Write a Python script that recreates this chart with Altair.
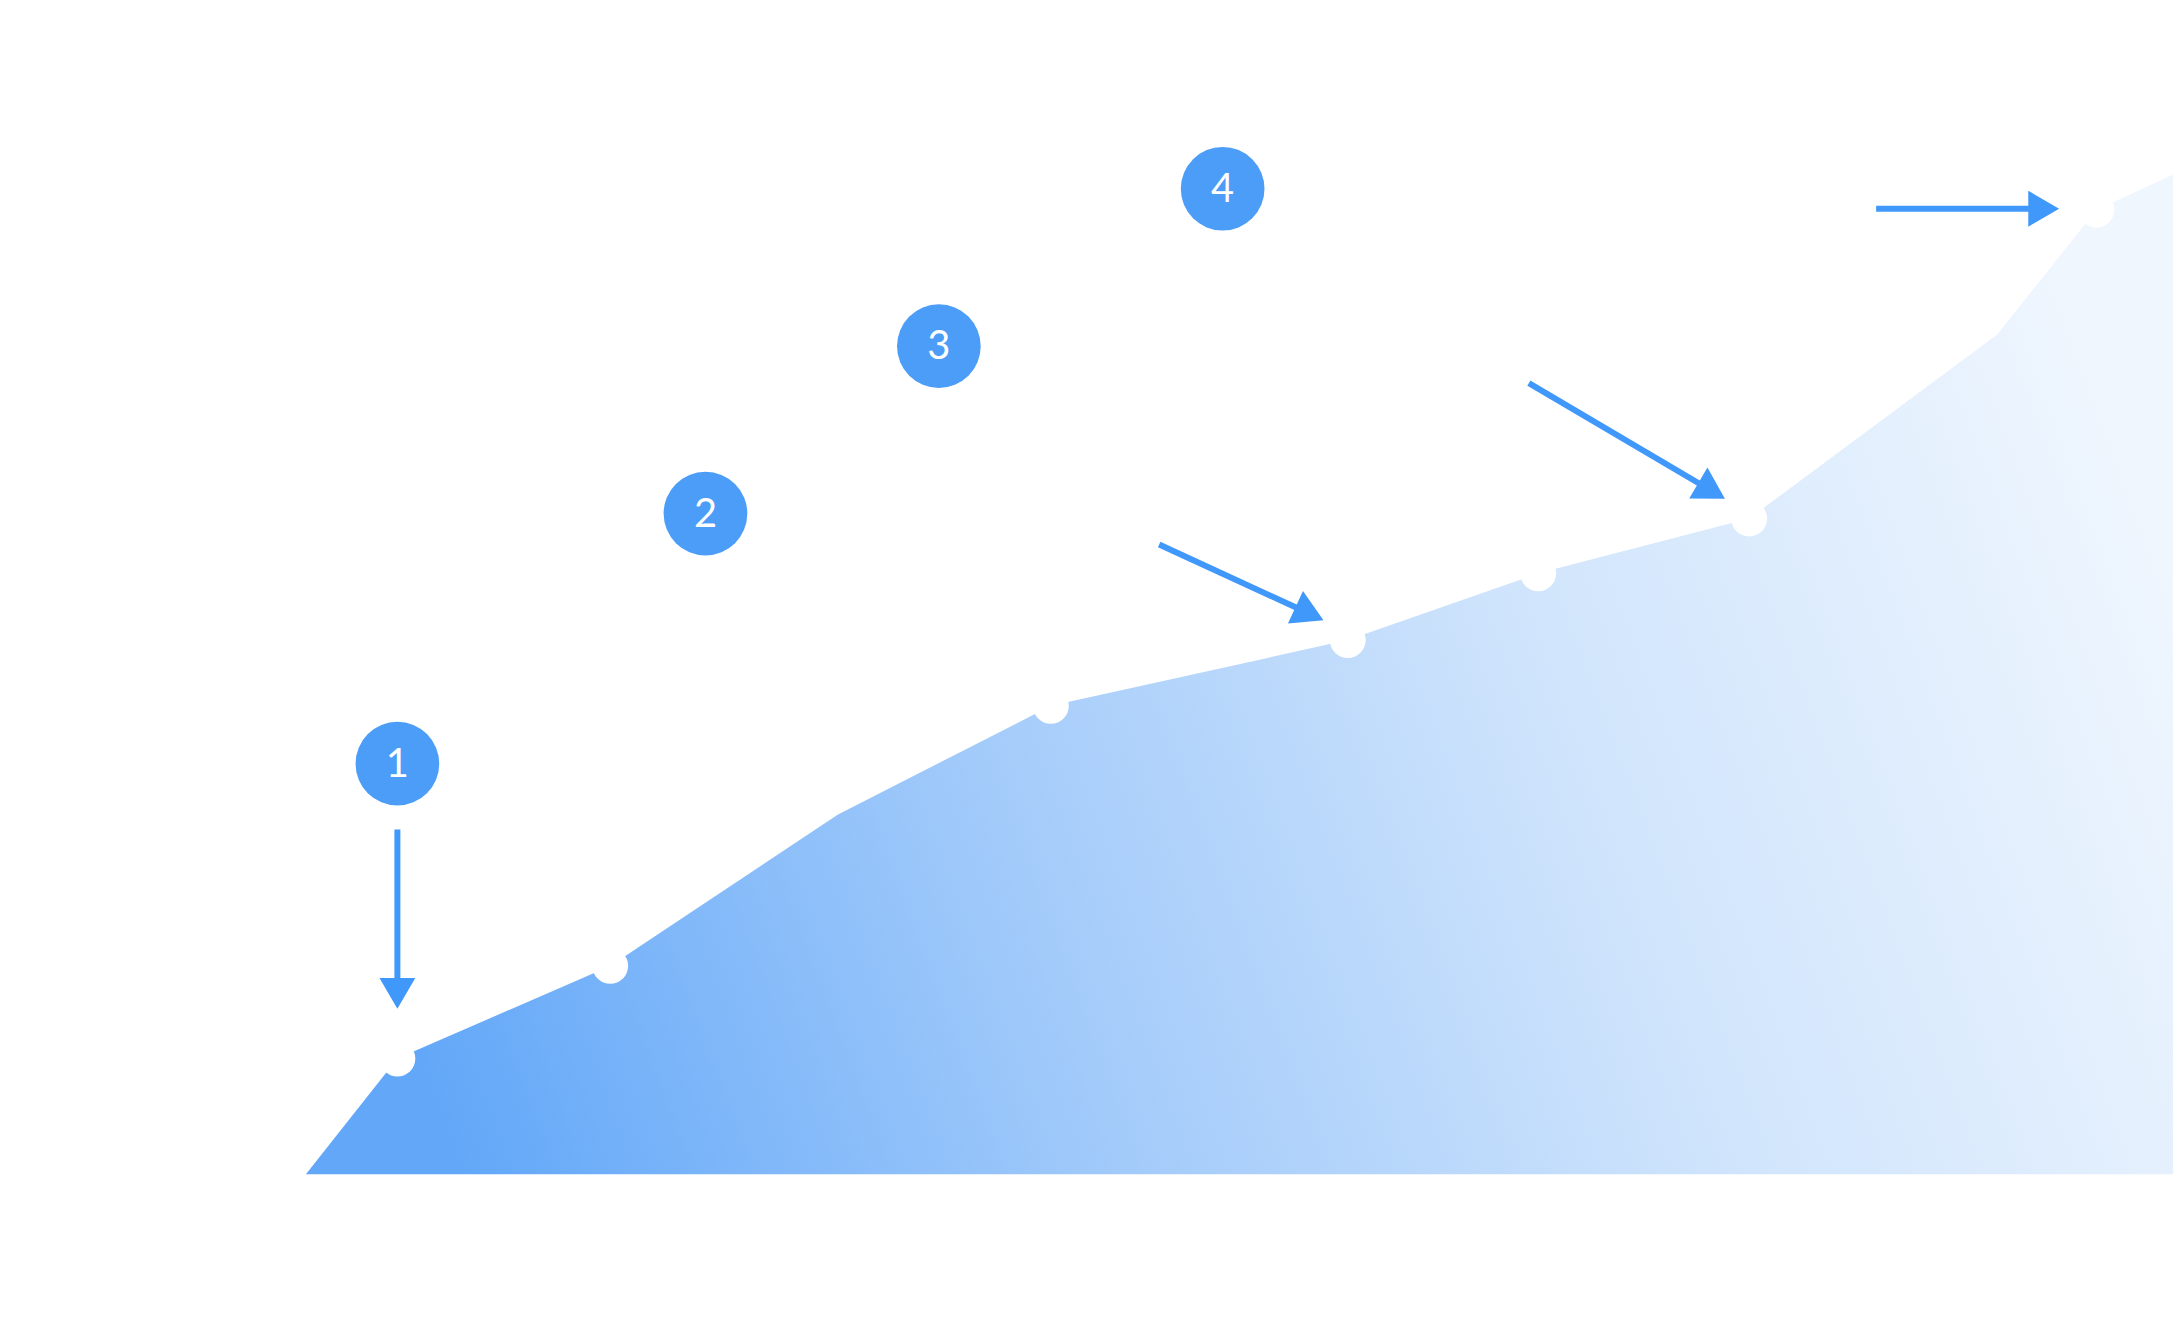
import math
import altair as alt
import pandas as pd

# ---- data (x: 0-100 time units, y: 0-100 value units) ----
area_x = [0, 4.9, 16.3, 28.5, 39.9, 55.8, 66.0, 77.3, 90.6, 95.9, 100]
area_y = [0, 11.6, 20.9, 36.1, 47.0, 53.6, 60.3, 65.8, 84.3, 96.8, 100.3]

marker_x = [4.9, 16.3, 39.9, 55.8, 66.0, 77.3, 95.9]
marker_y = [11.6, 20.9, 47.0, 53.6, 60.3, 65.8, 96.8]

badge_label = ["1", "2", "3", "4"]
badge_x = [4.9, 21.4, 33.9, 49.1]
badge_y = [41.2, 66.3, 83.1, 98.9]

arrow_x_start = [4.9, 45.7, 65.5, 84.1]
arrow_y_start = [34.6, 63.2, 79.4, 96.9]
arrow_x_tip = [4.9, 54.5, 76.0, 93.9]
arrow_y_tip = [16.6, 55.6, 67.8, 96.9]

# ---- layout ----
W, H = 1874, 1000
XDOM = [0, 100]
YDOM = [0, 100]
sx = W / (XDOM[1] - XDOM[0])
sy = H / (YDOM[1] - YDOM[0])
HEAD_LEN = 26  # px the shaft stops short of the tip

xs = alt.Scale(domain=XDOM, nice=False, zero=False)
ys = alt.Scale(domain=YDOM, nice=False, zero=False)

area_df = pd.DataFrame({"x": area_x, "y": area_y})
marker_df = pd.DataFrame({"x": marker_x, "y": marker_y})
badge_df = pd.DataFrame({"x": badge_x, "y": badge_y, "label": badge_label})

rows = []
for x0, y0, x1, y1 in zip(arrow_x_start, arrow_y_start, arrow_x_tip, arrow_y_tip):
    dxp = (x1 - x0) * sx
    dyp = -(y1 - y0) * sy
    L = math.hypot(dxp, dyp)
    ux, uy = dxp / L, dyp / L
    ex = x1 - HEAD_LEN * ux / sx
    ey = y1 + HEAD_LEN * uy / sy
    ang = math.degrees(math.atan2(dxp, -dyp)) % 360
    rows.append({"x0": x0, "y0": y0, "xe": ex, "ye": ey, "xt": x1, "yt": y1, "angle": ang})
arrow_df = pd.DataFrame(rows)

ARROW = "#4098fa"
BADGE = "#4b9df8"

gradient = alt.Gradient(
    gradient="linear",
    stops=[
        alt.GradientStop(color="#62a7f8", offset=0),
        alt.GradientStop(color="#a3cbfa", offset=0.35),
        alt.GradientStop(color="#cfe4fc", offset=0.65),
        alt.GradientStop(color="#eff6fe", offset=1),
    ],
    x1=0, y1=0.6, x2=1, y2=0.4,
)

area = alt.Chart(area_df).mark_area(color=gradient, interpolate="linear").encode(
    x=alt.X("x:Q", scale=xs, axis=None),
    y=alt.Y("y:Q", scale=ys, axis=None),
)

markers = alt.Chart(marker_df).mark_point(
    filled=True, color="white", opacity=1, size=1296, shape="circle"
).encode(
    x=alt.X("x:Q", scale=xs, axis=None),
    y=alt.Y("y:Q", scale=ys, axis=None),
)

shafts = alt.Chart(arrow_df).mark_rule(color=ARROW, strokeWidth=6, strokeCap="butt").encode(
    x=alt.X("x0:Q", scale=xs, axis=None),
    y=alt.Y("y0:Q", scale=ys, axis=None),
    x2="xe:Q",
    y2="ye:Q",
)

heads = alt.Chart(arrow_df).mark_point(
    filled=True, color=ARROW, opacity=1, size=1296, shape="M0,0L1,1.72L-1,1.72Z"
).encode(
    x=alt.X("xt:Q", scale=xs, axis=None),
    y=alt.Y("yt:Q", scale=ys, axis=None),
    angle=alt.Angle("angle:Q", scale=None),
)

badges = alt.Chart(badge_df).mark_point(
    filled=True, color=BADGE, opacity=1, size=7056, shape="circle"
).encode(
    x=alt.X("x:Q", scale=xs, axis=None),
    y=alt.Y("y:Q", scale=ys, axis=None),
)

badge_text = alt.Chart(badge_df).mark_text(
    color="white", font="Lato", fontSize=40, align="center", baseline="middle", dy=1
).encode(
    x=alt.X("x:Q", scale=xs, axis=None),
    y=alt.Y("y:Q", scale=ys, axis=None),
    text="label:N",
)

chart = alt.layer(area, markers, shafts, heads, badges, badge_text).properties(
    width=W,
    height=H,
    autosize=alt.AutoSizeParams(type="none"),
    padding={"left": 299, "top": 168, "right": 3, "bottom": 154},
    background="white",
).configure_view(stroke=None)

chart.save("out.html", embed_options={"renderer": "svg", "actions": False})
